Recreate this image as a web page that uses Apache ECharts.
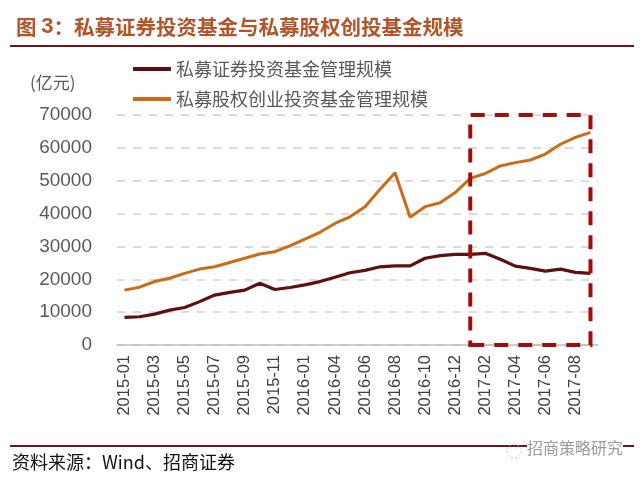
<!DOCTYPE html>
<html>
<head>
<meta charset="utf-8">
<script src="https://cdn.jsdelivr.net/npm/echarts@6/dist/echarts.min.js"></script>
<style>
html,body{margin:0;padding:0;background:#fff;}
#c{width:641px;height:483px;}
</style>
</head>
<body>
<div id="c"></div>
<script>
var categories = ['2015-01','2015-02','2015-03','2015-04','2015-05','2015-06','2015-07','2015-08','2015-09','2015-10','2015-11','2015-12',
  '2016-01','2016-03','2016-04','2016-05','2016-06','2016-07','2016-08','2016-09','2016-10','2016-11','2016-12',
  '2017-01','2017-02','2017-03','2017-04','2017-05','2017-06','2017-07','2017-08','2017-09'];
var securitiesFund = [8400,8600,9400,10600,11400,13200,15200,16000,16700,18800,16900,17500,
  18300,19300,20600,22000,22700,23800,24100,24100,26400,27200,27600,27600,27900,26100,24000,23300,22500,23100,22100,21800];
var equityVcFund = [16700,17600,19300,20300,21800,23100,23800,25100,26400,27700,28400,30200,
  32200,34300,37000,39000,42100,47400,52400,38900,42100,43300,46400,50700,52200,54500,55500,56300,58100,61100,63200,64700];
var yTicks = [0,10000,20000,30000,40000,50000,60000,70000];
var highlightRange = ['2017-01','2017-09'];

var chart = echarts.init(document.getElementById('c'), null, {renderer:'canvas'});
var cjk = '"Noto Sans CJK SC", sans-serif';
chart.setOption({
  animation:false,
  backgroundColor:'#fff',
  title:{
    text:'图 {b|3}：私募证券投资基金与私募股权创投基金规模',
    left:11, top:11,
    textStyle:{fontFamily:cjk, fontSize:20.5, fontWeight:'bold', color:'#B4542A',
      rich:{b:{fontFamily:'"Liberation Sans", Arial', fontSize:22, fontWeight:'bold', color:'#B4542A'}}}
  },
  graphic:[
    {type:'line', shape:{x1:10,y1:46,x2:634,y2:46}, style:{stroke:'#7A1414', lineWidth:2}},
    {type:'line', shape:{x1:10,y1:446,x2:634,y2:446}, style:{stroke:'#7A1414', lineWidth:2}},
    {type:'text', left:12, top:453, style:{text:'资料来源：Wind、招商证券', font:'18px "Noto Sans CJK SC", sans-serif', fill:'#111'}},
    {type:'text', left:527, top:440, style:{text:'招商策略研究', font:'16px "Noto Sans CJK SC", sans-serif', fill:'#9A9A9A', backgroundColor:'#fff'}},
    {type:'circle', shape:{cx:514,cy:451,r:7}, style:{fill:'none', stroke:'#C8C8C8', lineWidth:1, lineDash:[2,2]}},
    {type:'text', left:30, top:74, style:{text:'(亿元)', font:'17px "Noto Sans CJK SC", sans-serif', fill:'#595959'}}
  ],
  legend:{
    orient:'vertical', left:128, top:53, itemWidth:38, itemHeight:4, itemGap:8, icon:'rect',
    textStyle:{fontFamily:cjk, fontSize:18, color:'#595959', lineHeight:22},
    data:['私募证券投资基金管理规模','私募股权创业投资基金管理规模']
  },
  grid:{left:117, right:43, top:115, bottom:138, containLabel:false},
  xAxis:{
    type:'category', data:categories, boundaryGap:true,
    axisLine:{show:true, lineStyle:{color:'#BFBFBF', width:1.5}},
    axisTick:{show:false},
    axisLabel:{interval:1, rotate:90, margin:10, fontFamily:'"Liberation Sans", Arial', fontSize:16.5, color:'#404040'},
    splitLine:{show:false}
  },
  yAxis:{
    type:'value', min:yTicks[0], max:yTicks[yTicks.length-1], interval:10000,
    axisLine:{show:false}, axisTick:{show:false},
    axisLabel:{margin:25, fontFamily:'"Liberation Sans", Arial', fontSize:19, color:'#595959',
      formatter:function(v){return String(v);}},
    splitLine:{show:true, lineStyle:{color:'#D0D0D0', type:[8,8], width:1.5}}
  },
  series:[
    {name:'私募证券投资基金管理规模', type:'line', data:securitiesFund, symbol:'none',
      lineStyle:{color:'#5E0F0E', width:3.2}, itemStyle:{color:'#5E0F0E'}, z:3},
    {name:'私募股权创业投资基金管理规模', type:'line', data:equityVcFund, symbol:'none',
      lineStyle:{color:'#CC6B16', width:3}, itemStyle:{color:'#CC6B16'}, z:3,
      markArea:{silent:true, z:5,
        itemStyle:{color:'rgba(0,0,0,0)', borderColor:'#A00D0D', borderWidth:4, borderType:[14,10]},
        data:[[{xAxis:highlightRange[0], yAxis:yTicks[0]},{xAxis:highlightRange[1], yAxis:yTicks[yTicks.length-1]}]]}
    }
  ]
});
</script>
</body>
</html>
